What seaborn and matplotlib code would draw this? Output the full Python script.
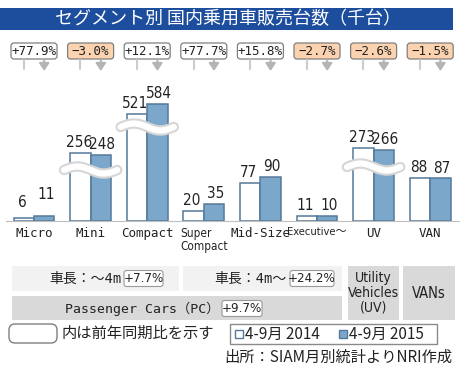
import numpy as np
import pandas as pd
import matplotlib
matplotlib.use('Agg')
import matplotlib.pyplot as plt
import seaborn as sns
from matplotlib import font_manager as fm
from matplotlib.patches import Rectangle, FancyBboxPatch

# Data (thousand units)
segments = ['Micro', 'Mini', 'Compact', 'Super Compact', 'Mid-Size', 'Executive～', 'UV', 'VAN']
tick_labels = ['Micro', 'Mini', 'Compact', 'Super\nCompact', 'Mid-Size', 'Executive～', 'UV', 'VAN']
sales_2014 = [6, 256, 521, 20, 77, 11, 273, 88]
sales_2015 = [11, 248, 584, 35, 90, 10, 266, 87]
yoy = ['+77.9%', '-3.0%', '+12.1%', '+77.7%', '+15.8%', '-2.7%', '-2.6%', '-1.5%']
periods = ['4-9月 2014', '4-9月 2015']
broken = ['Mini', 'Compact', 'UV']

title = 'セグメント別 国内乗用車販売台数（千台）'
len_groups = ['車長：～4m', '車長：4m～']
len_growth = ['+7.7%', '+24.2%']
pc_label = 'Passenger Cars（PC）'
pc_growth = '+9.7%'
uv_label = 'Utility\nVehicles\n(UV)'
van_label = 'VANs'
note = '内は前年同期比を示す'
source = '出所：SIAM月別統計よりNRI作成'

sns.set_style('white')
JP = ['Noto Sans CJK JP', 'DejaVu Sans']
MONO = ['DejaVu Sans Mono', 'Noto Sans CJK JP']
plt.rcParams['font.family'] = JP

# narrow font for numbers: use a condensed face if one is installed
narrow = [f for f in fm.fontManager.ttflist
          if ('Narrow' in f.name or 'Condensed' in f.name or 'condensed' in str(f.stretch))
          and f.weight in (400, 'normal', 'regular') and f.style == 'normal']
if narrow:
    fm.fontManager.addfont(narrow[0].fname)
    NARROW = [narrow[0].name, 'Noto Sans CJK JP']
    NSTRETCH = narrow[0].stretch
    nsize = 11
else:
    NARROW, NSTRETCH = ['Roboto', 'Noto Sans CJK JP'], 'normal'
    nsize = 10

c14, c15, edge = 'white', '#7ba7cb', '#55799a'
grey_txt = '#222222'

df = pd.DataFrame({'segment': segments * 2,
                   'period': [periods[0]] * 8 + [periods[1]] * 8,
                   'value': sales_2014 + sales_2015})

W, H = 464, 368
fig = plt.figure(figsize=(W / 100, H / 100), dpi=100)
ax = fig.add_axes([5.7 / W, 1 - 221 / H, 452.8 / W, 161 / H])

sns.barplot(data=df, x='segment', y='value', hue='period', palette=[c14, c15],
            saturation=1, width=0.72, gap=0, linewidth=1.1, edgecolor=edge,
            legend=False, ax=ax, errorbar=None)

# broken value axis: piecewise linear scale (values -> pixels above baseline)
kv = [0, 100, 245, 275, 500, 5000]
kp = [0, 49, 65, 73.5, 104, 824]
fwd = lambda v: np.interp(v, kv, kp)
inv = lambda p: np.interp(p, kp, kv)
ax.set_yscale('function', functions=(fwd, inv))
ax.set_ylim(0, inv(161))
ax.set_xlim(-0.5, 7.5)
ax.set_yticks([])
ax.set_xlabel('')
ax.set_ylabel('')
for s in ['top', 'right', 'left']:
    ax.spines[s].set_visible(False)
ax.spines['bottom'].set_color('#bfbfbf')
ax.set_xticks(range(8))
ax.set_xticklabels(tick_labels, family=MONO, fontsize=9, color=grey_txt)
ax.set_xticks(np.arange(-0.5, 8, 1), minor=True)
ax.tick_params(axis='x', which='major', length=0, pad=4)
ax.tick_params(axis='x', which='minor', length=5, color='#bfbfbf', width=1)
for lab in ax.get_xticklabels():
    if lab.get_text().startswith('Super'):
        lab.set_fontsize(8.5)
        lab.set_family(NARROW)
        lab.set_fontstretch(NSTRETCH)
        lab.set_linespacing(1.0)
        lab.set_multialignment('left')
    if lab.get_text().startswith('Exec'):
        lab.set_fontsize(8)
        lab.set_family(NARROW)
        lab.set_fontstretch(NSTRETCH)

for k, (cont, vals) in enumerate(zip(ax.containers, [sales_2014, sales_2015])):
    dx = -1.2 if k == 0 else 1.2
    texts = ax.bar_label(cont, labels=[str(v) for v in vals], padding=2,
                         fontsize=nsize, family=NARROW, fontstretch=NSTRETCH, color=grey_txt)
    for t in texts:
        t.xyann = (dx, t.xyann[1])
    texts[0].xyann = (dx, 6 if k == 0 else 10)

# overlay in pixel coordinates for the decorations
ov = fig.add_axes([0, 0, 1, 1])
ov.set_xlim(0, W)
ov.set_ylim(H, 0)
ov.axis('off')


def xpx(xd):
    return ax.transData.transform((xd, 1))[0]


# title bar
ov.add_patch(Rectangle((0, 8), 453, 22, fc='#1d4e9e', ec='none'))
ov.text(228, 19.5, title, color='white', fontsize=13, ha='center', va='center')

# YoY boxes with arrows
for i, t in enumerate(yoy):
    cx = xpx(i)
    neg = t.startswith('-')
    ov.add_patch(FancyBboxPatch((cx - 23, 43), 46, 16,
                                boxstyle='round,pad=0,rounding_size=3',
                                fc='#fbd3b0' if neg else 'white', ec='#7f7f7f', lw=0.9))
    ov.text(cx, 51.5, t.replace('-', '−'), family=MONO, fontsize=9,
            ha='center', va='center', color=grey_txt)
    p14 = ax.containers[0].patches[i]
    p15 = ax.containers[1].patches[i]
    x14 = xpx(p14.get_x() + p14.get_width() / 2)
    x15 = xpx(p15.get_x() + p15.get_width() / 2)
    ov.plot([x14, x14], [60, 69], color='#cccccc', lw=1.5)
    ov.annotate('', xy=(x15, 71), xytext=(x15, 60),
                arrowprops=dict(arrowstyle='-|>,head_length=0.45,head_width=0.3',
                                color='#b4b4b4', lw=1.5, shrinkA=0, shrinkB=0))

# break marks on the tall bars
wave_y = {'Mini': 170, 'Compact': 127, 'UV': 167}
for seg in broken:
    i = segments.index(seg)
    x0, x1 = xpx(i - 0.47), xpx(i + 0.47)
    xs = np.linspace(x0, x1, 60)
    ys = wave_y[seg] - 3.5 * np.sin(2 * np.pi * (xs - x0) / (x1 - x0))
    ov.plot(xs, ys, color='#d6d6d6', lw=7.5, solid_capstyle='round')
    ov.plot(xs, ys, color='white', lw=4.5, solid_capstyle='round')

# segment group boxes
ov.add_patch(Rectangle((12, 266), 167, 25, fc='#f2f2f2', ec='none'))
ov.add_patch(Rectangle((183, 266), 159, 25, fc='#f2f2f2', ec='none'))
ov.add_patch(Rectangle((12, 296), 330, 24, fc='#d9d9d9', ec='none'))
ov.add_patch(Rectangle((348, 266), 51, 54, fc='#d9d9d9', ec='none'))
ov.add_patch(Rectangle((403, 266), 52, 54, fc='#d9d9d9', ec='none'))


def small_box(x0, x1, yc, txt):
    ov.add_patch(FancyBboxPatch((x0, yc - 8), x1 - x0, 16,
                                boxstyle='round,pad=0,rounding_size=2.5',
                                fc='white', ec='#9a9a9a', lw=0.8))
    ov.text((x0 + x1) / 2, yc, txt, family=NARROW, fontstretch=NSTRETCH, fontsize=9.5,
            ha='center', va='center', color=grey_txt)


for (tx, bx0, bx1), lab, g in zip([(122, 124, 163), (287, 290, 334)], len_groups, len_growth):
    ov.text(tx, 279, lab, family=MONO, fontsize=10, ha='right', va='center', color=grey_txt)
    small_box(bx0, bx1, 278.5, g)
ov.text(220, 308.5, pc_label, family=MONO, fontsize=9.5, ha='right', va='center', color=grey_txt)
small_box(222, 262, 308.5, pc_growth)
ov.text(373.5, 293, uv_label, family=NARROW, fontstretch=NSTRETCH, fontsize=10,
        ha='center', va='center', linespacing=1.05, color=grey_txt)
ov.text(429, 293, van_label, family=NARROW, fontstretch=NSTRETCH, fontsize=10.5,
        ha='center', va='center', color=grey_txt)

# notes and legend
ov.add_patch(FancyBboxPatch((9, 324), 48, 19, boxstyle='round,pad=0,rounding_size=6',
                            fc='white', ec='#7f7f7f', lw=1))
ov.text(62, 333.5, note, fontsize=11, ha='left', va='center', color=grey_txt)
ov.add_patch(Rectangle((230, 324), 207, 20, fc='white', ec='#8a8a8a', lw=1))
for sx, fc, lab in zip([235, 339], [c14, c15], periods):
    ov.add_patch(Rectangle((sx, 330), 8, 8, fc=fc, ec=edge, lw=1))
    ov.text(sx + 10, 334, lab, fontsize=11, ha='left', va='center', color=grey_txt)
ov.text(452, 357, source, fontsize=11, ha='right', va='center', color=grey_txt)

fig.savefig('out.png', dpi=100)
